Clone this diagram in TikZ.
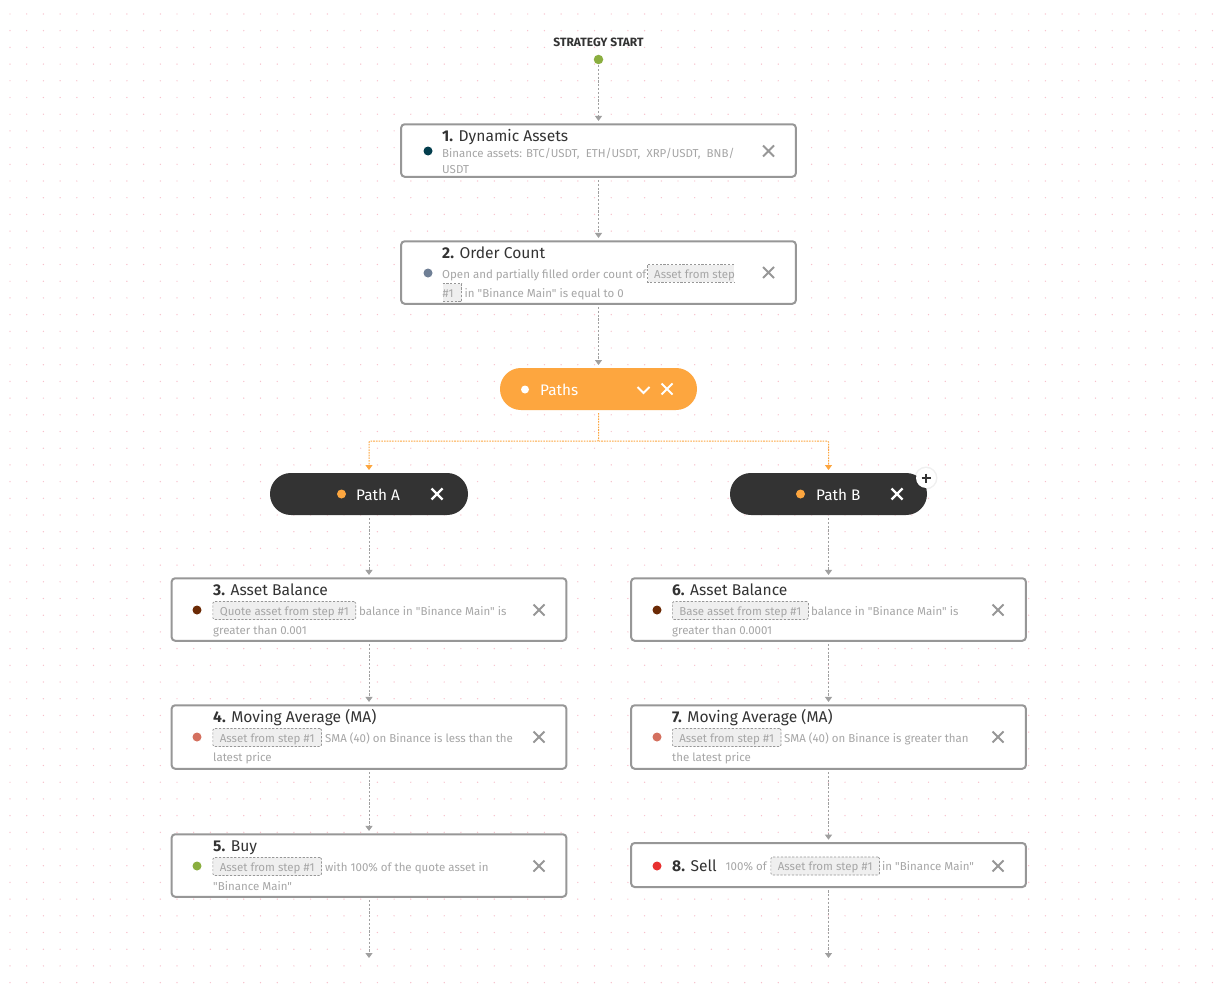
\documentclass[tikz,border=0pt]{standalone}
\usepackage{fontspec}
\setmainfont{Fira Sans}[Ligatures=TeXOff]
\usetikzlibrary{arrows.meta}
\definecolor{frame}{HTML}{979797}
\definecolor{ink}{HTML}{333333}
\definecolor{mute}{HTML}{A6A6A6}
\definecolor{orangeb}{HTML}{FDA63F}
\definecolor{chipbg}{HTML}{EFEFEF}
\definecolor{dotc}{HTML}{F8BFCB}
\definecolor{cgreen}{HTML}{8AAE3F}
\definecolor{cteal}{HTML}{033E4D}
\definecolor{cslate}{HTML}{6F7F95}
\definecolor{cbrown}{HTML}{6B2A05}
\definecolor{ccoral}{HTML}{D4705F}
\definecolor{cred}{HTML}{E8302F}
\definecolor{linec}{HTML}{A0A0A0}
\tikzset{
  x=1pt,y=-1pt,
  stepbox/.style={draw=frame,line width=2pt,rounded corners=3.5pt,fill=white,minimum width=394.7pt,inner sep=0,outer sep=3.3pt},
  pill/.style={rounded corners=20.9pt,minimum width=197pt,minimum height=42pt,inner sep=0,outer sep=3pt},
  flow/.style={draw=linec,line width=1pt,dash pattern=on 2.2pt off 1.6pt,-{Triangle[length=5pt,width=7pt]}},
  oflow/.style={draw=orangeb,line width=1pt,dash pattern=on 1.6pt off 1.1pt,rounded corners=1pt,-{Triangle[length=5pt,width=7pt]}},
  ttl/.style={font=\fontsize{15.6}{18}\selectfont,text=ink,anchor=base west,inner sep=0},
  dsc/.style={font=\fontsize{11.5}{13}\selectfont,text=mute,anchor=base west,inner sep=0},
  chip/.style={draw=frame,fill=chipbg,line width=.7pt,dash pattern=on 2.2pt off 1.6pt,rounded corners=1.5pt,anchor=west,font=\fontsize{11.5}{13}\selectfont,text=mute,inner xsep=7pt,inner ysep=0,text height=13.5pt,text depth=4.5pt},
  dotn/.style={circle,inner sep=0,minimum size=#1},
  lbl/.style={font=\fontsize{15.3}{18}\selectfont,anchor=base west,inner sep=0,text=white},
}
\newcommand{\xmark}[3]{\draw[line width=1.9pt,#3] ({#1-5.5},{#2-5.5}) -- ({#1+5.5},{#2+5.5}) ({#1-5.5},{#2+5.5}) -- ({#1+5.5},{#2-5.5});}
\begin{document}
\begin{tikzpicture}
\useasboundingbox (0,0) rectangle (1224,998);
\fill[white] (0,0) rectangle (1224,998);
\foreach \i in {0,...,73}{\foreach \j in {0,...,59}{
  \fill[dotc] ({10+\i*16.7},{14+\j*16.7}) circle (.7);
}}
% start
\node[font=\fontsize{12}{14}\selectfont\bfseries,text=ink,inner sep=0] (start) at (598.5,42) {STRATEGY START};
\node[dotn=9.5pt,fill=cgreen,outer sep=1pt] (sdot) at (598.5,59.5) {};
% boxes
\node[stepbox,minimum height=52.5pt] (b1) at (598.5,150.5) {};
\node[stepbox,minimum height=62.5pt] (b2) at (598.5,272.5) {};
\node[pill,fill=orangeb] (paths) at (598.5,389) {};
\node[pill,fill=ink,minimum width=198pt] (patha) at (369,494) {};
\node[pill,fill=ink] (pathb) at (828.5,494) {};
\node[stepbox,minimum height=62.5pt] (b3) at (369,609.5) {};
\node[stepbox,minimum height=63.5pt] (b4) at (369,737) {};
\node[stepbox,minimum height=62.5pt] (b5) at (369,865.5) {};
\node[stepbox,minimum height=62.5pt] (b6) at (828.5,609.5) {};
\node[stepbox,minimum height=63.5pt] (b7) at (828.5,737) {};
\node[stepbox,minimum height=44pt] (b8) at (828.5,865) {};
\coordinate (e5) at (369,958);
\coordinate (e8) at (828.5,958);
\coordinate (junc) at (598.5,441);
% connectors
\draw[flow] (sdot) -- (b1);
\draw[flow] (b1) -- (b2);
\draw[flow] (b2) -- (paths);
\draw[oflow] (paths.south) -- (junc) -| (patha.north);
\draw[oflow] (junc) -| (pathb.north);
\draw[flow] (patha) -- (b3);
\draw[flow] (b3) -- (b4);
\draw[flow] (b4) -- (b5);
\draw[flow] (b5) -- (e5);
\draw[flow] (pathb) -- (b6);
\draw[flow] (b6) -- (b7);
\draw[flow] (b7) -- (b8);
\draw[flow] (b8) -- (e8);
% box 1
\node[dotn=9pt,fill=cteal] (d1) at (428,151) {};
\node[ttl] (t1) at (442,141) {\textbf{1.} Dynamic Assets};
\node[dsc] (s1a) at (442,157) {Binance assets: BTC/USDT,\ \ ETH/USDT,\ \ XRP/USDT,\ \ BNB/};
\node[dsc] (s1b) at (442,173) {USDT};
\xmark{768.5}{151}{frame}
% box 2
\node[dotn=9pt,fill=cslate] (d2) at (428,273) {};
\node[ttl] (t2) at (442,258) {\textbf{2.} Order Count};
\node[dsc] (s2a) at (442,278) {Open and partially filled order count of};
\fill[chipbg] (647.5,264.5) rectangle (734,282);
\draw[frame,line width=.7pt,dash pattern=on 2.2pt off 1.6pt] (734,264.5) -- (647.5,264.5) -- (647.5,282) -- (734,282);
\node[dsc] (s2c) at (654,278) {Asset from step};
\fill[chipbg] (442.5,283.5) rectangle (461.5,301.5);
\draw[frame,line width=.7pt,dash pattern=on 2.2pt off 1.6pt] (442.5,283.5) -- (461.5,283.5) -- (461.5,301.5) -- (442.5,301.5);
\node[dsc] (s2d) at (442.5,297) {\#1};
\node[dsc] (s2e) at (464.5,297) {in "Binance Main" is equal to 0};
\xmark{768.5}{272.5}{frame}
% paths
\node[dotn=8pt,fill=white] (d0) at (525,389.5) {};
\node[lbl] (tp) at (540,395) {Paths};
\draw[white,line width=1.9pt] (637.5,387) -- (643.5,393) -- (649.5,387);
\xmark{667}{389}{white}
% path A
\node[dotn=9pt,fill=orangeb] (da) at (341.5,494) {};
\node[lbl] (ta) at (356,500) {Path A};
\xmark{437}{494}{white,line width=2.2pt}
% path B
\node[dotn=9pt,fill=orangeb] (db) at (800.5,494) {};
\node[lbl] (tb) at (816,500) {Path B};
\xmark{897}{494}{white,line width=2.2pt}
\fill[black,opacity=.06] (926,478) circle (11.5);
\node[dotn=20pt,fill=white] (plus) at (926,478) {};
\draw[ink,line width=1.8pt] (921.5,478) -- (930.5,478) (926,473.5) -- (926,482.5);
% box 3
\node[dotn=9pt,fill=cbrown] (d3) at (197,610) {};
\node[ttl] (t3) at (213,595) {\textbf{3.} Asset Balance};
\node[chip] (c3) at (212.5,610.5) {Quote asset from step \#1};
\node[dsc] (s3a) at (359,615) {balance in "Binance Main" is};
\node[dsc] (s3b) at (213,634) {greater than 0.001};
\xmark{539}{610}{frame}
% box 4
\node[dotn=9pt,fill=ccoral] (d4) at (197,737) {};
\node[ttl] (t4) at (213,722) {\textbf{4.} Moving Average (MA)};
\node[chip] (c4) at (212.5,737.5) {Asset from step \#1};
\node[dsc] (s4a) at (325,742) {SMA (40) on Binance is less than the};
\node[dsc] (s4b) at (213,761) {latest price};
\xmark{539}{737}{frame}
% box 5
\node[dotn=9pt,fill=cgreen] (d5) at (197,866) {};
\node[ttl] (t5) at (213,851) {\textbf{5.} Buy};
\node[chip] (c5) at (212.5,866.5) {Asset from step \#1};
\node[dsc] (s5a) at (325,871) {with 100\% of the quote asset in};
\node[dsc] (s5b) at (213,890) {"Binance Main"};
\xmark{539}{866}{frame}
% box 6
\node[dotn=9pt,fill=cbrown] (d6) at (657,610) {};
\node[ttl] (t6) at (672,595) {\textbf{6.} Asset Balance};
\node[chip] (c6) at (672,610.5) {Base asset from step \#1};
\node[dsc] (s6a) at (811,615) {balance in "Binance Main" is};
\node[dsc] (s6b) at (672,634) {greater than 0.0001};
\xmark{998}{610}{frame}
% box 7
\node[dotn=9pt,fill=ccoral] (d7) at (657,737) {};
\node[ttl] (t7) at (672,722) {\textbf{7.} Moving Average (MA)};
\node[chip] (c7) at (672,737.5) {Asset from step \#1};
\node[dsc] (s7a) at (784,742) {SMA (40) on Binance is greater than};
\node[dsc] (s7b) at (672,761) {the latest price};
\xmark{998}{737}{frame}
% box 8
\node[dotn=9pt,fill=cred] (d8) at (657,866) {};
\node[ttl] (t8) at (672,871) {\textbf{8.} Sell};
\node[dsc] (s8a) at (725.5,870.5) {100\% of};
\node[chip] (c8) at (770.5,866) {Asset from step \#1};
\node[dsc] (s8b) at (882,870.5) {in "Binance Main"};
\xmark{998}{866}{frame}
\end{tikzpicture}
\end{document}
